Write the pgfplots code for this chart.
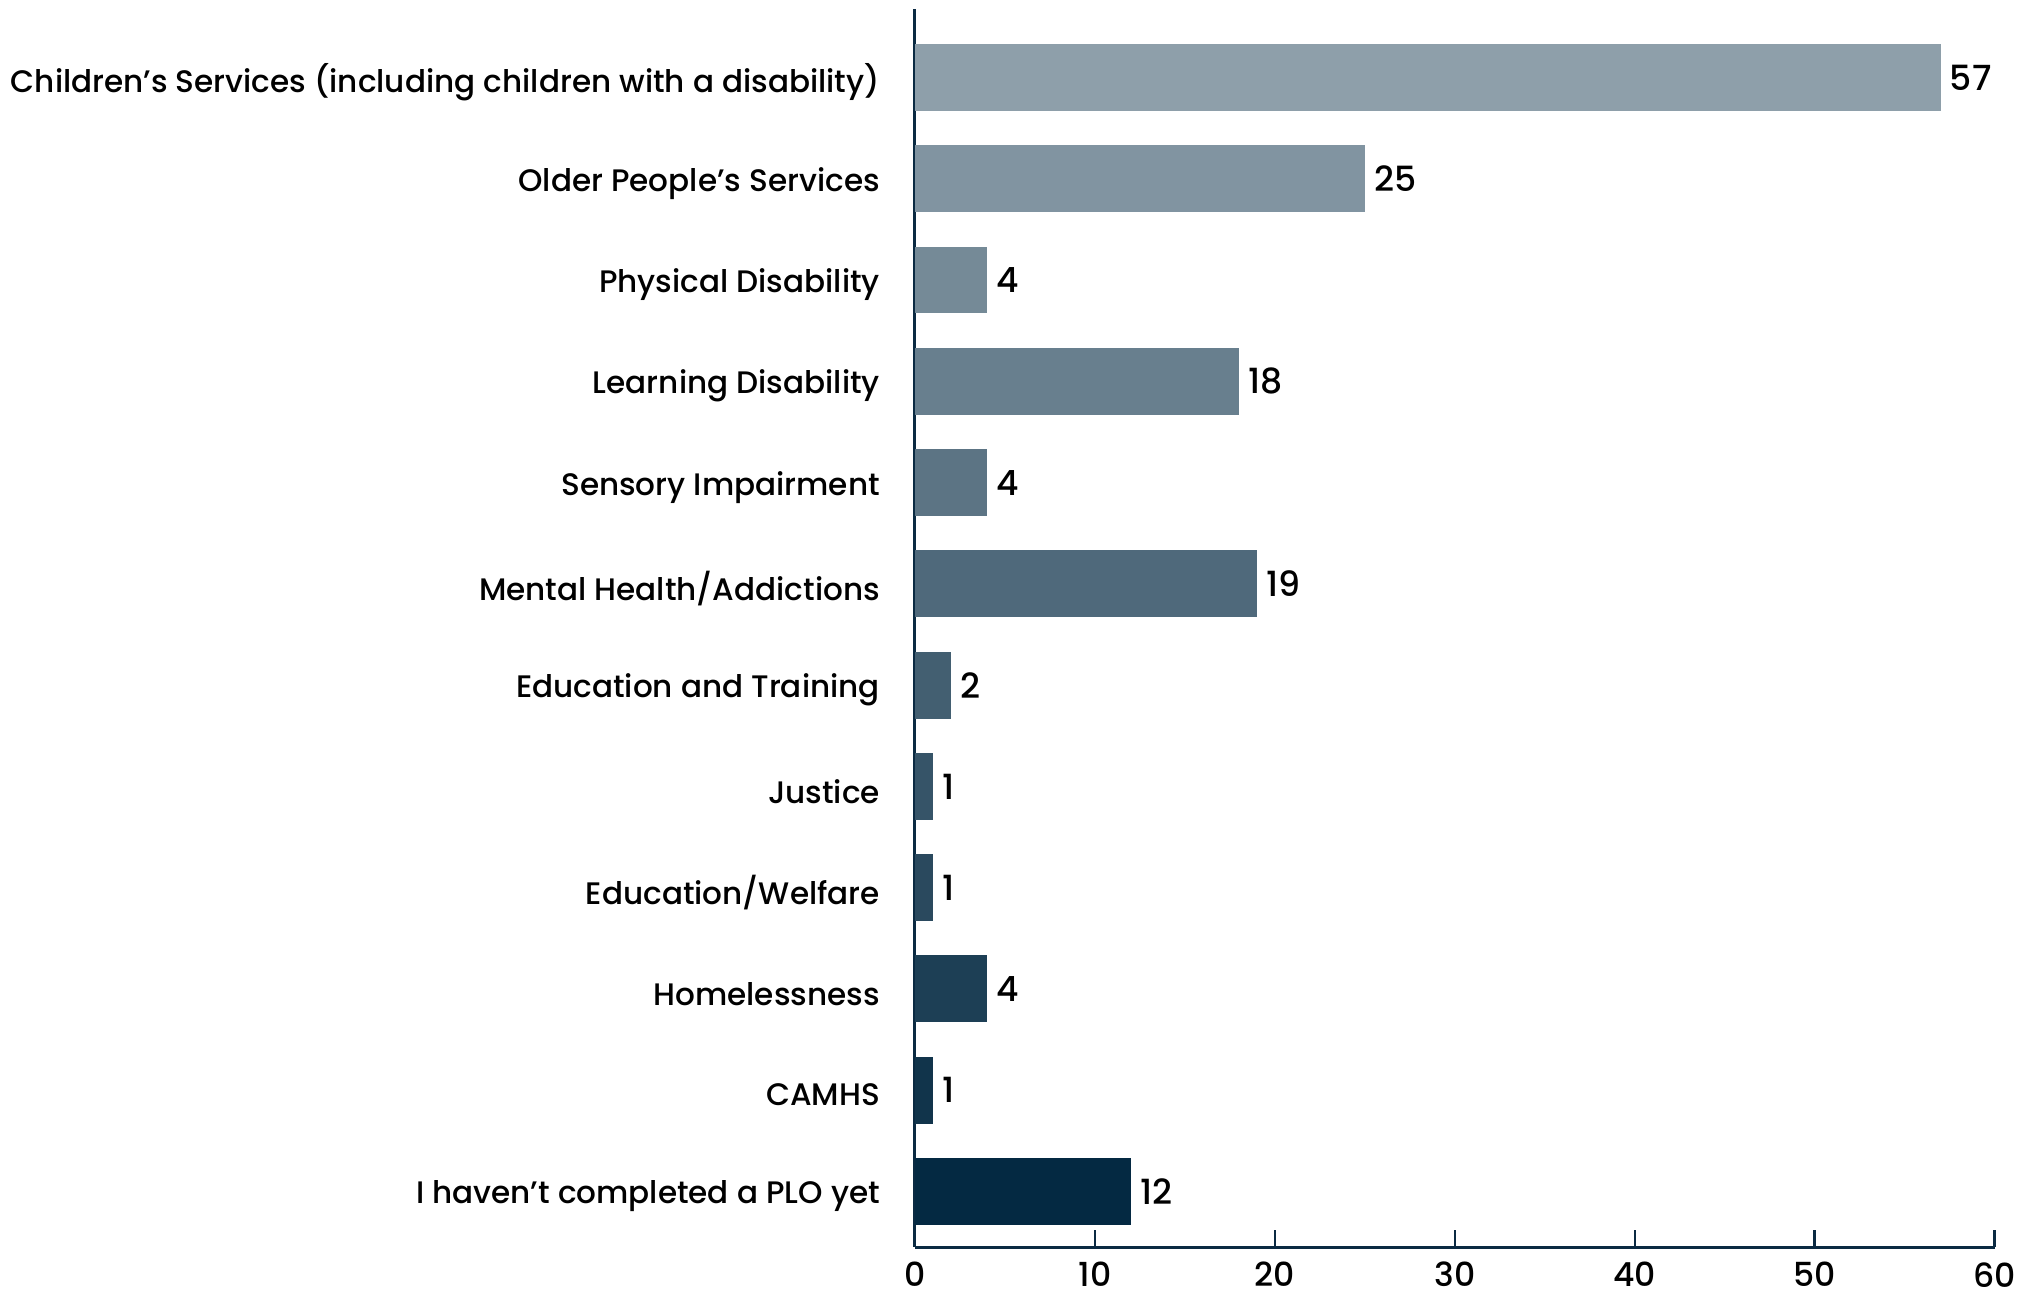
\documentclass[border=0pt]{standalone}
\usepackage{pgfplots}
\pgfplotsset{compat=1.18}
\usepackage{fontspec}
\setmainfont{Poppins}[UprightFont=* Medium]
\definecolor{axisnavy}{HTML}{0B2A42}
\definecolor{c0}{HTML}{8E9FAA}
\definecolor{c1}{HTML}{8194A1}
\definecolor{c2}{HTML}{758A97}
\definecolor{c3}{HTML}{687F8E}
\definecolor{c4}{HTML}{5C7484}
\definecolor{c5}{HTML}{4F697B}
\definecolor{c6}{HTML}{435F71}
\definecolor{c7}{HTML}{365468}
\definecolor{c8}{HTML}{2A495E}
\definecolor{c9}{HTML}{1D3F55}
\definecolor{c10}{HTML}{11344B}
\definecolor{c11}{HTML}{042942}
\begin{document}
\begin{tikzpicture}
\useasboundingbox (-228.75bp,-11.75bp) rectangle (281.25bp,311.75bp);
\begin{axis}[
  at={(0,0)}, anchor=south west,
  scale only axis,
  width=269.9bp, height=309.5bp,
  xbar, bar shift=0pt, bar width=0.661,
  xmin=0, xmax=60,
  y dir=reverse,
  ymin=-0.676, ymax=11.548,
  axis x line*=bottom, axis y line*=left,
  axis line style={axisnavy, line width=0.75bp, -},
  xtick={0,10,...,60},
  xtick align=inside,
  major tick length=4.25bp,
  tick style={axisnavy, line width=0.6bp},
  ytick={0,...,11},
  ytick style={draw=none},
  yticklabels={Children’s Services (including children with a disability),Older People’s Services,Physical Disability,Learning Disability,Sensory Impairment,Mental Health/Addictions,Education and Training,Justice,Education/Welfare,Homelessness,CAMHS,I haven’t completed a PLO yet},
  yticklabel style={font=\fontsize{7.8}{10}\selectfont, xshift=-1bp, yshift=-1.2bp, anchor=east},
  xticklabel style={font=\fontsize{8.3}{10}\selectfont, yshift=-0.3bp},
  /pgf/number format/assume math mode=true,
  nodes near coords,
  every node near coord/.append style={font=\fontsize{8.7}{10}\selectfont, xshift=-1.2bp, /pgf/number format/assume math mode=true},
  clip=false,
]
\addplot[fill=c0, draw=none] coordinates {(57,0)};
\addplot[fill=c1, draw=none] coordinates {(25,1)};
\addplot[fill=c2, draw=none] coordinates {(4,2)};
\addplot[fill=c3, draw=none] coordinates {(18,3)};
\addplot[fill=c4, draw=none] coordinates {(4,4)};
\addplot[fill=c5, draw=none] coordinates {(19,5)};
\addplot[fill=c6, draw=none] coordinates {(2,6)};
\addplot[fill=c7, draw=none] coordinates {(1,7)};
\addplot[fill=c8, draw=none] coordinates {(1,8)};
\addplot[fill=c9, draw=none] coordinates {(4,9)};
\addplot[fill=c10, draw=none] coordinates {(1,10)};
\addplot[fill=c11, draw=none] coordinates {(12,11)};
\end{axis}
\end{tikzpicture}
\end{document}
